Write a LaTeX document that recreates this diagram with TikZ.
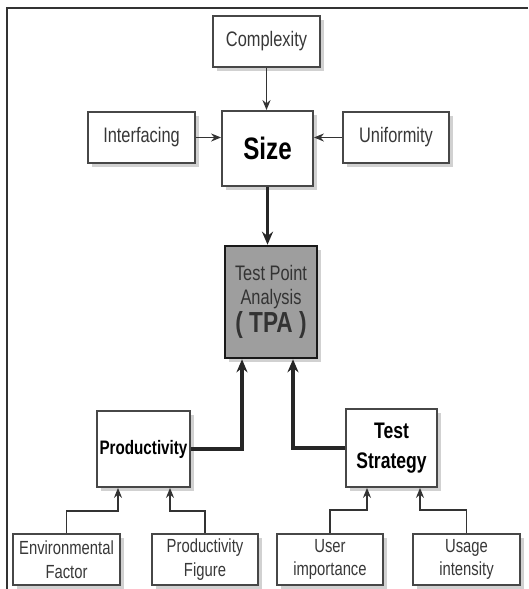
\documentclass[tikz,border=0pt]{standalone}
\usepackage{fontspec}
\setmainfont{Liberation Sans}[FakeStretch=0.78]
\usetikzlibrary{arrows.meta,shadows}

\begin{document}
\begin{tikzpicture}[x=1pt,y=1pt,
    box/.style={draw=black!72, line width=1.8pt, fill=white, inner sep=0pt, align=center, text=black!78,
      drop shadow={shadow xshift=4pt, shadow yshift=-4pt, opacity=.3, fill=black!60}},
    small/.style={box, minimum width=107pt, minimum height=51pt, font=\fontsize{21}{22}\selectfont},
    leaf/.style={box, minimum width=107pt, minimum height=51pt, font=\fontsize{19}{23.5}\selectfont},
    feed/.style={draw=black!80, line width=1.4pt, -{Stealth[length=10pt,width=8pt]}},
    mainflow/.style={draw=black!85, line width=3.2pt, -{Stealth[length=13pt,width=11pt]}}]
    \useasboundingbox (0,0) rectangle (528,589);
    \draw[black!80, line width=1.2pt] (7,0) -- (7,581) -- (528,581);

    \node (cplx) at (266.5,547.5) [small] {Complexity};
    \node (intf) at (141.5,451.5) [small] {Interfacing};
    \node (unif) at (396,451.5) [small, minimum width=106pt] {Uniformity};
    \node (size) at (267.5,440.5) [box, minimum width=91pt, minimum height=75pt, text=black, font=\fontsize{31}{32}\bfseries\selectfont] {Size};

    \node (tpa) at (271,287) [box, fill=black!38, draw=black!90, line width=2.6pt, minimum width=92pt, minimum height=112pt, text=black!80, font=\fontsize{21}{24}\selectfont] {Test Point\\Analysis\\[2pt]{\fontsize{29}{30}\bfseries\selectfont ( TPA )}};

    \node (prod) at (143.5,140) [box, minimum width=93pt, minimum height=76pt, text=black, font=\fontsize{19.5}{20}\bfseries\selectfont] {Productivity};
    \node (strat) at (391.5,141) [box, minimum width=91pt, minimum height=78pt, text=black, font=\fontsize{22.5}{30}\bfseries\selectfont] {Test\\Strategy};

    \node (env) at (66.5,29.5) [leaf] {Environmental\\Factor};
    \node (pfig) at (205,29.5) [leaf, minimum width=106pt] {Productivity\\Figure};
    \node (user) at (330,29.5) [leaf, minimum width=106pt] {User\\importance};
    \node (usage) at (466.5,29.5) [leaf] {Usage\\intensity};

    \draw[feed] (cplx.south) -- (cplx.south |- size.north);
    \draw[feed] (intf.east) -- (intf.east -| size.west);
    \draw[feed] (unif.west) -- (unif.west -| size.east);
    \draw[mainflow] (size.south) -- (size.south |- tpa.north);

    \draw[mainflow] (prod.east) -| ([xshift=-29pt]tpa.south);
    \draw[mainflow] (strat.west) -| ([xshift=22pt]tpa.south);

    \draw[feed] (env.north) -- ++(0,22) -| ([xshift=-25.5pt]prod.south);
    \draw[feed] (pfig.north) -- ++(0,22) -| ([xshift=26.5pt]prod.south);
    \draw[feed] (user.north) -- ++(0,23) -| ([xshift=-24.5pt]strat.south);
    \draw[feed] (usage.north) -- ++(0,23) -| ([xshift=28.5pt]strat.south);
\end{tikzpicture}
\end{document}
